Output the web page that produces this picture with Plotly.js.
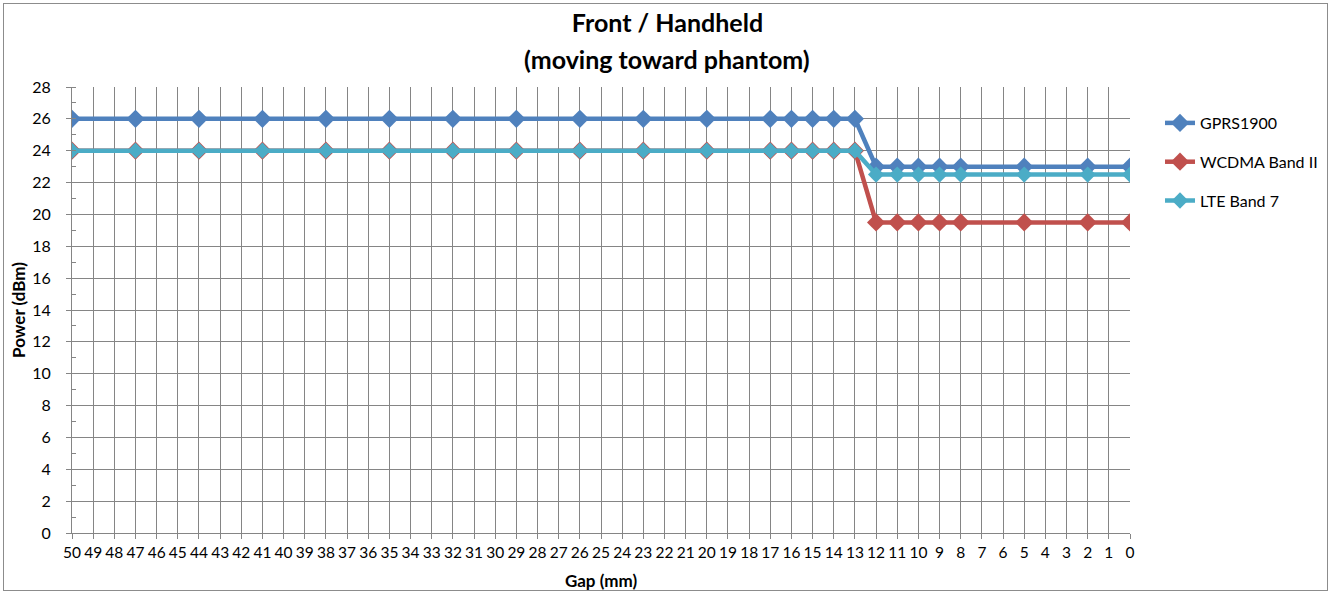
<!DOCTYPE html>
<html>
<head>
<meta charset="utf-8">
<script src="https://cdn.plot.ly/plotly-3.0.1.min.js"></script>
<style>
  html, body { margin: 0; padding: 0; background: #fff; }
  #frame { position: absolute; left: 3px; top: 3px; width: 1325px; height: 588px; border: 1px solid #8c8c8c; box-sizing: border-box; pointer-events: none; z-index: 5; }
  #chart { position: absolute; left: 0; top: 0; width: 1335px; height: 596px; }
</style>
</head>
<body>
<div id="chart"></div>
<div id="frame"></div>
<script>
// Gap (mm) at which power was measured
const gapMm = [50, 47, 44, 41, 38, 35, 32, 29, 26, 23, 20, 17, 16, 15, 14, 13, 12, 11, 10, 9, 8, 5, 2, 0];
// Power (dBm) per series
const gprs1900 = [26, 26, 26, 26, 26, 26, 26, 26, 26, 26, 26, 26, 26, 26, 26, 26, 23, 23, 23, 23, 23, 23, 23, 23];
const wcdmaBandII = [24, 24, 24, 24, 24, 24, 24, 24, 24, 24, 24, 24, 24, 24, 24, 24, 19.5, 19.5, 19.5, 19.5, 19.5, 19.5, 19.5, 19.5];
const lteBand7 = [24, 24, 24, 24, 24, 24, 24, 24, 24, 24, 24, 24, 24, 24, 24, 24, 22.5, 22.5, 22.5, 22.5, 22.5, 22.5, 22.5, 22.5];
const seriesNames = ["GPRS1900", "WCDMA Band II", "LTE Band 7"];
const seriesColors = ["#4F81BD", "#C0504D", "#4BACC6"];

const FONT = "Lato, 'Open Sans', 'Liberation Sans', sans-serif";
const GRID = "#858585";

const traces = [
  {
    x: gapMm, y: gprs1900, name: seriesNames[0], legendgroup: "g1",
    mode: "lines+markers", line: { color: seriesColors[0], width: 4.5 },
    marker: { symbol: "diamond", size: 14, color: seriesColors[0] }
  },
  {
    x: gapMm, y: wcdmaBandII, name: seriesNames[1], legendgroup: "g2",
    mode: "lines+markers", line: { color: seriesColors[1], width: 4.5 },
    marker: { symbol: "diamond", size: 14, color: seriesColors[1] }
  },
  {
    x: gapMm, y: lteBand7, name: seriesNames[2], legendgroup: "g3",
    mode: "lines+markers", line: { color: seriesColors[2], width: 4.5 },
    marker: { symbol: "diamond", size: 12.5, color: seriesColors[2] }
  }
];

const layout = {
  width: 1335, height: 596,
  margin: { l: 72, r: 205, t: 87, b: 63 },
  paper_bgcolor: "#ffffff", plot_bgcolor: "#ffffff",
  font: { family: FONT, color: "#000", size: 16 },
  showlegend: true,
  title: {
    text: "<b>Front / Handheld</b>",
    font: { family: FONT, size: 25, color: "#000" },
    x: 0.5, xref: "container", xanchor: "center",
    y: 1 - 23 / 596, yref: "container", yanchor: "middle"
  },
  annotations: [{
    text: "<b>(moving toward phantom)</b>",
    font: { family: FONT, size: 25, color: "#000" },
    xref: "paper", yref: "paper",
    x: (667 - 72) / 1058, y: (533 - 59) / 446,
    xanchor: "center", yanchor: "middle", showarrow: false
  }],
  xaxis: {
    range: [50, 0], tickmode: "linear", tick0: 0, dtick: 1,
    showgrid: true, gridcolor: GRID, gridwidth: 1,
    showline: true, linecolor: GRID, linewidth: 1,
    ticks: "outside", ticklen: 5, tickcolor: GRID,
    tickfont: { family: FONT, size: 15.5, color: "#000" },
    zeroline: false,
    title: { text: "<b>Gap (mm)</b>", font: { family: FONT, size: 17, color: "#000" }, standoff: 15 }
  },
  yaxis: {
    range: [0, 28], tickmode: "linear", tick0: 0, dtick: 2,
    showgrid: true, gridcolor: GRID, gridwidth: 1,
    showline: true, linecolor: GRID, linewidth: 1,
    ticks: "outside", ticklen: 5, tickcolor: GRID,
    ticklabelstandoff: 12,
    minor: { ticks: "inside", ticklen: 4, dtick: 1, tickcolor: GRID, showgrid: false },
    tickfont: { family: FONT, size: 16, color: "#000" },
    zeroline: false,
    title: { text: "<b>Power (dBm)</b>", font: { family: FONT, size: 17, color: "#000" }, standoff: 2 }
  },
  legend: {
    x: (1160 - 72) / 1058, xanchor: "left",
    y: (533 - 106) / 446, yanchor: "top",
    font: { family: FONT, size: 16, color: "#000" },
    tracegroupgap: 15, bgcolor: "rgba(0,0,0,0)"
  }
};

Plotly.newPlot("chart", traces, layout, { staticPlot: true, displayModeBar: false });
</script>
</body>
</html>
